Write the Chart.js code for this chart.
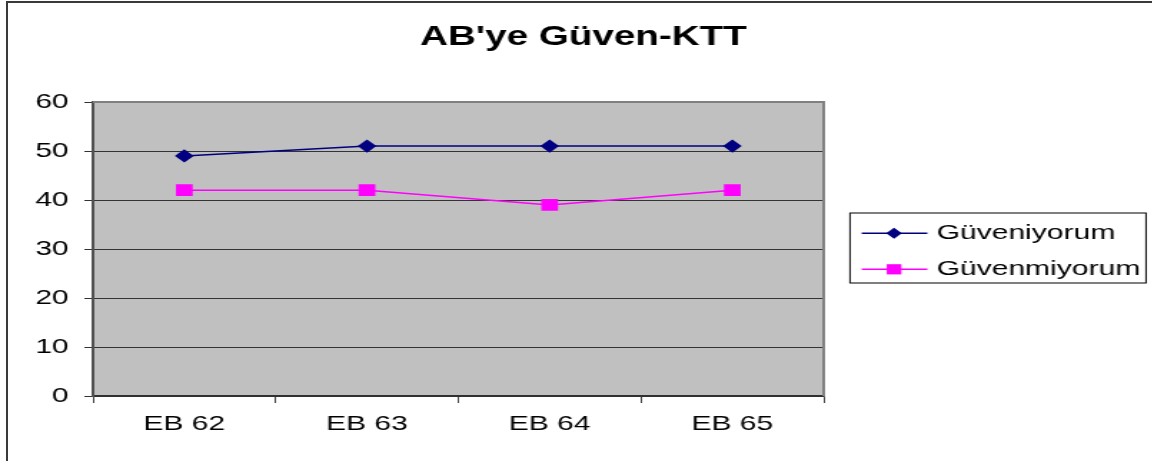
<!DOCTYPE html>
<html>
<head>
<meta charset="utf-8">
<script src="https://cdn.jsdelivr.net/npm/chart.js@4.4.0/dist/chart.umd.min.js"></script>
<style>
    html, body { margin: 0; padding: 0; background: #fff; }
    body { width: 1152px; height: 461px; overflow: hidden; position: relative; }
    #wrap { position: absolute; left: 0; top: 0; width: 806px; height: 461px; transform: scaleX(1.43); transform-origin: 0 0; }
    #frame { position: absolute; left: 6px; top: 1px; width: 1200px; height: 500px; border-left: 2px solid #3a3a3a; border-top: 2px solid #3a3a3a; pointer-events: none; }
</style>
</head>
<body>
<div id="wrap"><canvas id="chart" width="806" height="461"></canvas></div>
<div id="frame"></div>
<script>
const categories = ["EB 62", "EB 63", "EB 64", "EB 65"];
const guveniyorum = [49, 51, 51, 51];
const guvenmiyorum = [42, 42, 39, 42];
const seriesNames = ["Güveniyorum", "Güvenmiyorum"];
const seriesColors = ["#000080", "#FF00FF"];

const FONT = "'Liberation Sans', Arial, sans-serif";

// gray plot background and the light border on top/right
const plotArea = {
    id: "plotArea",
    beforeDraw(chart) {
        const { ctx, chartArea: a } = chart;
        ctx.save();
        ctx.fillStyle = "#C0C0C0";
        ctx.fillRect(a.left, a.top, a.right - a.left, a.bottom - a.top);
        ctx.restore();
    },
    beforeDatasetsDraw(chart) {
        const { ctx, chartArea: a } = chart;
        ctx.save();
        ctx.strokeStyle = "#808080";
        ctx.lineWidth = 2;
        ctx.beginPath();
        ctx.moveTo(a.left, a.top);
        ctx.lineTo(a.right, a.top);
        ctx.lineTo(a.right, a.bottom);
        ctx.stroke();
        ctx.restore();
    }
};

function drawMarker(ctx, style, x, y, color) {
    ctx.fillStyle = color;
    ctx.beginPath();
    if (style === "rectRot") {
        ctx.moveTo(x - 5.5, y);
        ctx.lineTo(x, y - 5.5);
        ctx.lineTo(x + 5.5, y);
        ctx.lineTo(x, y + 5.5);
        ctx.closePath();
    } else {
        ctx.rect(x - 5.1, y - 5.1, 10.2, 10.2);
    }
    ctx.fill();
}

// boxed legend with line + marker samples
const boxLegend = {
    id: "boxLegend",
    afterDraw(chart) {
        const { ctx, chartArea: a } = chart;
        const left = a.right + 18.4;
        const width = 207;
        const height = 70;
        const top = (a.top + a.bottom) / 2 - height / 2 - 1;
        ctx.save();
        ctx.strokeStyle = "#000";
        ctx.lineWidth = 1;
        ctx.strokeRect(left, top, width, height);
        chart.data.datasets.forEach((ds, i) => {
            const y = top + 20.3 + i * 36;
            ctx.strokeStyle = ds.borderColor;
            ctx.lineWidth = 1.5;
            ctx.beginPath();
            ctx.moveTo(left + 8.2, y);
            ctx.lineTo(left + 54.1, y);
            ctx.stroke();
            drawMarker(ctx, ds.pointStyle, left + 30.8, y, ds.borderColor);
            ctx.fillStyle = "#000";
            ctx.font = "21px " + FONT;
            ctx.textBaseline = "middle";
            ctx.textAlign = "left";
            ctx.fillText(ds.label, left + 60.6, y);
        });
        ctx.restore();
    }
};

new Chart(document.getElementById("chart"), {
    type: "line",
    data: {
        labels: categories,
        datasets: [
            {
                label: seriesNames[0],
                data: guveniyorum,
                borderColor: seriesColors[0],
                backgroundColor: seriesColors[0],
                borderWidth: 1.5,
                pointStyle: "rectRot",
                pointRadius: 5.5,
                pointHoverRadius: 5.5,
                tension: 0
            },
            {
                label: seriesNames[1],
                data: guvenmiyorum,
                borderColor: seriesColors[1],
                backgroundColor: seriesColors[1],
                borderWidth: 1.5,
                pointStyle: "rect",
                pointRadius: 7.2,
                pointHoverRadius: 7.2,
                tension: 0
            }
        ]
    },
    options: {
        responsive: false,
        animation: false,
        events: [],
        layout: { padding: { left: 10, right: 0, top: 0, bottom: 0 } },
        plugins: {
            legend: { display: false },
            tooltip: { enabled: false },
            title: {
                display: true,
                text: "AB'ye Güven-KTT",
                color: "#000",
                font: { family: FONT, size: 27, weight: "bold" },
                padding: { top: 21, bottom: 48.6 }
            }
        },
        scales: {
            x: {
                offset: true,
                grid: {
                    offset: true,
                    drawOnChartArea: false,
                    color: "#404040",
                    tickLength: 7
                },
                border: { color: "#303030", width: 1.5 },
                ticks: {
                    color: "#000",
                    padding: 9,
                    maxRotation: 0,
                    font: { family: FONT, size: 21 }
                },
                afterFit(s) { s.height = 65; }
            },
            y: {
                min: 0,
                max: 60,
                ticks: {
                    stepSize: 10,
                    color: "#000",
                    padding: 11,
                    font: { family: FONT, size: 21 }
                },
                grid: { color: "#333", lineWidth: 1, tickLength: 6 },
                border: { color: "#505050", width: 2 },
                afterFit(s) { s.width = 55; }
            },
            y2: {
                position: "right",
                display: true,
                grid: { display: false },
                border: { display: false },
                ticks: { display: false },
                afterFit(s) { s.width = 230; }
            }
        }
    },
    plugins: [plotArea, boxLegend]
});
</script>
</body>
</html>
